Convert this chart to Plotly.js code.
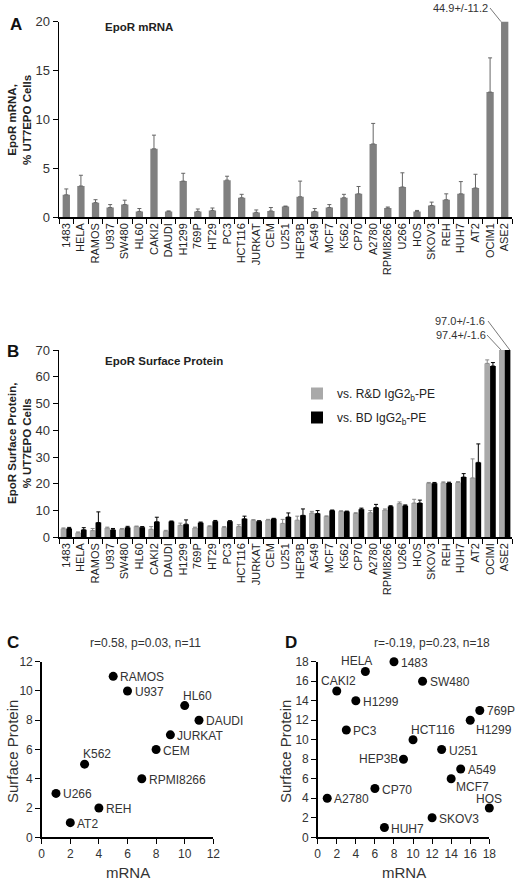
<!DOCTYPE html>
<html>
<head>
<meta charset="utf-8">
<script src="https://cdn.plot.ly/plotly-3.0.1.min.js"></script>
<style>html,body{margin:0;padding:0;background:#fff;}#chart{width:516px;height:882px;}</style>
</head>
<body>
<div id="chart"></div>
<script>
// ---------- Data ----------
var catsA = ['1483','HELA','RAMOS','U937','SW480','HL60','CAKI2','DAUDI','H1299','769P','HT29','PC3','HCT116','JURKAT','CEM','U251','HEP3B','A549','MCF7','K562','CP70','A2780','RPMI8266','U266','HOS','SKOV3','REH','HUH7','AT2','OCIM1','ASE2'];
var mrna    = [2.3,3.2,1.5,1.0,1.3,0.6,7.0,0.6,3.7,0.6,0.7,3.8,2.0,0.5,0.65,1.1,2.1,0.6,1.0,2.0,2.4,7.5,0.95,3.1,0.6,1.2,1.8,2.4,3.0,12.8,44.9];
var mrnaErr = [0.6,1.1,0.3,0.3,0.45,0.3,1.4,0.05,0.8,0.25,0.25,0.4,0.35,0.25,0.35,0.05,1.6,0.3,0.3,0.35,0.75,2.1,0.1,1.45,0.1,0.35,0.6,1.25,1.4,3.5,11.2];

var catsB = ['1483','HELA','RAMOS','U937','SW480','HL60','CAKI2','DAUDI','H1299','769P','HT29','PC3','HCT116','JURKAT','CEM','U251','HEP3B','A549','MCF7','K562','CP70','A2780','RPMI8266','U266','HOS','SKOV3','REH','HUH7','AT2','OCIMI','ASE2'];
var protRnD    = [3.2,1.7,2.5,3.5,3.0,4.0,3.0,2.3,4.5,3.5,4.0,3.7,4.0,6.4,6.5,5.2,6.4,9.1,7.8,9.7,8.9,9.2,10.2,12.6,12.8,20.2,20.4,20.5,22.2,65.0,97.4];
var protRnDErr = [0.3,0.3,0.8,0.3,0.3,0.2,1.0,0.3,0.8,0.3,0.3,0.3,0.7,0.2,0.2,1.5,1.5,0.6,0.2,0.2,0.3,0.8,0.4,0.6,1.4,0.3,0.3,0.3,7.1,1.3,1.6];
var protBD     = [3.3,2.8,5.5,2.8,3.7,3.8,5.8,5.9,4.9,5.4,6.0,6.0,6.9,6.0,6.9,7.6,8.2,8.9,10.0,9.6,10.5,11.1,11.5,11.8,12.8,20.2,20.3,22.5,28.0,64.0,97.0];
var protBDErr  = [0.4,0.8,4.0,0.5,0.4,0.2,1.7,0.2,1.6,0.3,0.3,0.2,1.0,0.2,0.2,1.5,2.4,1.1,0.2,0.2,0.4,1.2,0.3,0.3,1.1,0.3,0.3,1.3,6.9,1.3,1.6];

var cLabels = ['RAMOS','U937','HL60','DAUDI','JURKAT','CEM','K562','RPMI8266','U266','REH','AT2'];
var cX = [5,6,10,11,9,8,3,7,1,4,2];
var cY = [11,10,9,8,7,6,5,4,3,2,1];

var dLabels = ['1483','HELA','SW480','CAKI2','H1299','769P','H1299','PC3','HCT116','U251','HEP3B','A549','MCF7','CP70','A2780','HOS','SKOV3','HUH7'];
var dX = [8,5,11,2,4,17,16,3,10,13,9,15,14,6,1,18,12,7];
var dY = [18,17,16,15,14,13,12,11,10,9,8,7,6,5,4,3,2,1];

// label placement (style, not data)
var cPlace = ['r','r','tr','r','r','r','tr','r','r','r','r'];
var dPlace = ['r','tl','r','t','r','r','br','r','tr','r','l','r','bn','r','r','tb','r','r'];

// ---------- Helpers ----------
var W = 516, H = 882;
function PX(p){ return p / W; }
function PY(p){ return 1 - p / H; }
var FONT = 'Liberation Sans, Arial, sans-serif';
function zeros(n){ var a=[]; for(var i=0;i<n;i++) a.push(0); return a; }

// bar-panel geometry (px)
var BAR_L = 59, BAR_R = 512, A_TOP = 21.7, A_BOT = 217.3, B_TOP = 350, B_BOT = 537.3;
function catPx(pos, n){ return BAR_L + (pos + 0.5) * (BAR_R - BAR_L) / n; }

var traces = [
  {type:'bar', x:catsA, y:mrna, xaxis:'x', yaxis:'y', width:0.5, marker:{color:'#808080'}, showlegend:false,
   error_y:{type:'data', symmetric:false, array:mrnaErr, arrayminus:zeros(mrna.length), color:'#666', thickness:1, width:2}},
  {type:'bar', x:catsB, y:protRnD, xaxis:'x2', yaxis:'y2', name:'vs. R&amp;D IgG2<sub>b</sub>-PE', legendgroup:'a',
   marker:{color:'#a9a9a9'},
   error_y:{type:'data', symmetric:false, array:protRnDErr, arrayminus:zeros(protRnD.length), color:'#888', thickness:1, width:2}},
  {type:'bar', x:catsB, y:protBD, xaxis:'x2', yaxis:'y2', name:'vs. BD IgG2<sub>b</sub>-PE', legendgroup:'b',
   marker:{color:'#000000'},
   error_y:{type:'data', symmetric:false, array:protBDErr, arrayminus:zeros(protBD.length), color:'#000', thickness:1, width:2}},
  {type:'scatter', mode:'markers', x:cX, y:cY, text:cLabels, xaxis:'x3', yaxis:'y3',
   marker:{color:'#000', size:9}, cliponaxis:false, showlegend:false},
  {type:'scatter', mode:'markers', x:dX, y:dY, text:dLabels, xaxis:'x4', yaxis:'y4',
   marker:{color:'#000', size:9}, cliponaxis:false, showlegend:false}
];

function barX(dom){
  return {domain:dom, type:'category', tickangle:-90, ticks:'outside', tickson:'boundaries', ticklen:5,
    tickcolor:'#000', showline:true, linecolor:'#000', linewidth:1.5, showgrid:false, zeroline:false,
    tickfont:{family:FONT, size:11, color:'#222'}, fixedrange:true};
}
function numAx(dom, range, dtick, fs){
  return {domain:dom, range:range, dtick:dtick, ticks:'outside', ticklen:5, tickcolor:'#000',
    showline:true, linecolor:'#000', linewidth:1.5, showgrid:false, zeroline:false,
    tickfont:{family:FONT, size:fs, color:'#333'}};
}

var xa = barX([PX(BAR_L), PX(BAR_R)]); xa.anchor='y'; xa.range=[-0.5, catsA.length-0.5];
var xb = barX([PX(BAR_L), PX(BAR_R)]); xb.anchor='y2'; xb.range=[-0.5, catsB.length-0.5];
var ya = numAx([PY(A_BOT), PY(A_TOP)], [0,20], 5, 13); ya.anchor='x';
var yb = numAx([PY(B_BOT), PY(B_TOP)], [0,70], 10, 13); yb.anchor='x2';
var xc = numAx([PX(41.7), PX(213.3)], [0,12], 2, 12); xc.anchor='y3';
var yc = numAx([PY(837.3), PY(661.7)], [0,12], 2, 12); yc.anchor='x3';
var xd = numAx([PX(317.7), PX(489.3)], [0,18], 2, 12); xd.anchor='y4';
var yd = numAx([PY(837.3), PY(661.7)], [0,18], 2, 12); yd.anchor='x4';

function ann(x, y, text, opts){
  var a = {xref:'paper', yref:'paper', x:PX(x), y:PY(y), text:text, showarrow:false,
    font:{family:FONT, size:12, color:'#222'}, xanchor:'center', yanchor:'middle'};
  for (var k in opts) a[k] = opts[k];
  return a;
}
function leaderShape(x0, y0, x1, y1){
  return {type:'line', xref:'paper', yref:'paper', x0:PX(x0), y0:PY(y0), x1:PX(x1), y1:PY(y1),
    line:{color:'#555', width:0.8}};
}

var nA = catsA.length, nB = catsB.length;
var annotations = [
  ann(16, 24, '<b>A</b>', {font:{family:FONT, size:17, color:'#111'}}),
  ann(13, 351, '<b>B</b>', {font:{family:FONT, size:17, color:'#111'}}),
  ann(13, 642, '<b>C</b>', {font:{family:FONT, size:17, color:'#111'}}),
  ann(291, 642, '<b>D</b>', {font:{family:FONT, size:17, color:'#111'}}),
  ann(139, 27, '<b>EpoR mRNA</b>', {font:{family:FONT, size:11.5, color:'#222'}}),
  ann(164, 361, '<b>EpoR Surface Protein</b>', {font:{family:FONT, size:11.5, color:'#222'}}),
  ann(19, 120, '<b>EpoR mRNA,<br>% UT7EPO Cells</b>', {textangle:-90, font:{family:FONT, size:11.5, color:'#222'}}),
  ann(19, 444, '<b>EpoR Surface Protein,<br>% UT7EPO Cells</b>', {textangle:-90, font:{family:FONT, size:11.5, color:'#222'}}),
  ann(145, 643, 'r=0.58, p=0.03, n=11', {font:{family:FONT, size:12, color:'#333'}}),
  ann(432, 643, 'r=-0.19, p=0.23, n=18', {font:{family:FONT, size:12, color:'#333'}}),
  ann(128, 872, 'mRNA', {font:{family:FONT, size:15, color:'#333'}}),
  ann(404, 872, 'mRNA', {font:{family:FONT, size:15, color:'#333'}}),
  ann(12, 752, 'Surface Protein', {textangle:-90, font:{family:FONT, size:15, color:'#333'}}),
  ann(285, 752, 'Surface Protein', {textangle:-90, font:{family:FONT, size:15, color:'#333'}}),
  ann(460, 8, '44.9+/-11.2', {font:{family:FONT, size:11, color:'#333'}}),
  ann(460, 321, '97.0+/-1.6', {font:{family:FONT, size:11, color:'#333'}}),
  ann(461, 335, '97.4+/-1.6', {font:{family:FONT, size:11, color:'#333'}})
];

var shapes = [
  leaderShape(490, 8, catPx(nA-1-0.25, nA), A_TOP),
  leaderShape(488, 321, catPx(nB-1+0.35, nB), B_TOP),
  leaderShape(487, 335, catPx(nB-1-0.25, nB), B_TOP)
];

// point labels
var placeOpts = {
  r:  {xanchor:'left',   xshift:6,  yshift:-1},
  t:  {xanchor:'center', xshift:2,  yshift:10},
  tb: {xanchor:'center', xshift:0,  yshift:9},
  tr: {xanchor:'left',   xshift:-3, yshift:10},
  tl: {xanchor:'right',  xshift:8,  yshift:10},
  br: {xanchor:'left',   xshift:5,  yshift:-10},
  bn: {xanchor:'left',   xshift:4,  yshift:-8},
  l:  {xanchor:'right',  xshift:-5, yshift:0}
};
function addLabels(labels, xs, ys, places, xr, yr){
  for (var i=0;i<labels.length;i++){
    var o = placeOpts[places[i]];
    annotations.push({xref:xr, yref:yr, x:xs[i], y:ys[i], text:labels[i], showarrow:false,
      xanchor:o.xanchor, yanchor:'middle', xshift:o.xshift, yshift:o.yshift, borderpad:0,
      font:{family:FONT, size:12, color:'#333'}});
  }
}
addLabels(cLabels, cX, cY, cPlace, 'x3', 'y3');
addLabels(dLabels, dX, dY, dPlace, 'x4', 'y4');

var layout = {
  width:W, height:H, margin:{l:0, r:0, t:0, b:0}, paper_bgcolor:'#fff', plot_bgcolor:'#fff',
  font:{family:FONT, color:'#222'},
  barmode:'group', bargap:0.22, bargroupgap:0,
  showlegend:true,
  legend:{x:PX(297), y:PY(379), xanchor:'left', yanchor:'top', bgcolor:'rgba(0,0,0,0)',
    font:{family:FONT, size:12, color:'#222'}, tracegroupgap:5, itemwidth:30},
  xaxis:xa, yaxis:ya, xaxis2:xb, yaxis2:yb, xaxis3:xc, yaxis3:yc, xaxis4:xd, yaxis4:yd,
  annotations:annotations, shapes:shapes
};

Plotly.newPlot('chart', traces, layout, {staticPlot:true, displayModeBar:false});
</script>
</body>
</html>
